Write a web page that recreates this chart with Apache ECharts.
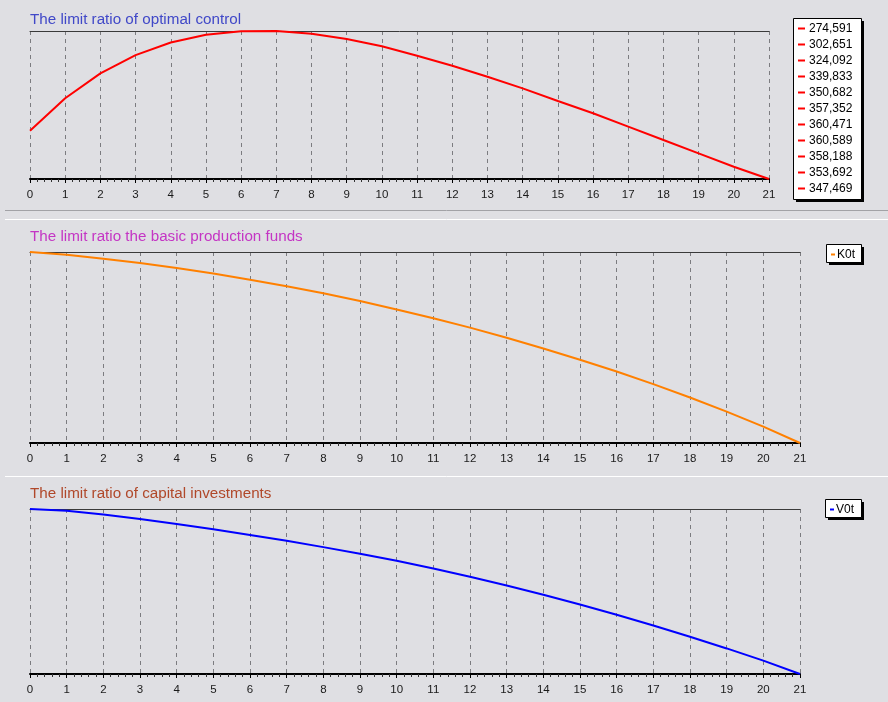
<!DOCTYPE html>
<html>
<head>
<meta charset="utf-8">
<script src="https://cdn.jsdelivr.net/npm/echarts@6/dist/echarts.min.js"></script>
<style>
  html, body { margin: 0; padding: 0; background: #dfdfe3; }
  #chart { width: 888px; height: 702px; }
</style>
</head>
<body>
<div id="chart"></div>
<script>
// ---- data ----
const steps = [0, 1, 2, 3, 4, 5, 6, 7, 8, 9, 10, 11, 12, 13, 14, 15, 16, 17, 18, 19, 20, 21];
const optimalControl = [274.591, 302.651, 324.092, 339.833, 350.682, 357.352, 360.471, 360.589, 358.188, 353.692, 347.469,
  339.3, 330.7, 321.2, 311.2, 300.3, 289.7, 278.2, 266.7, 255.2, 243.7, 233.1];
const k0t = [100, 98.5, 96.5, 94.2, 91.6, 88.7, 85.5, 82.1, 78.4, 74.3, 69.9, 65.3, 60.4, 55.1, 49.5, 43.6, 37.4, 30.8, 23.8, 16.4, 8.6, 0];
const v0t = [100, 98.9, 96.6, 93.9, 90.9, 87.7, 84.3, 80.7, 76.9, 72.9, 68.6, 63.9, 58.9, 53.6, 48.0, 42.1, 35.9, 29.4, 22.6, 15.5, 8.1, 0];
const titles = ['The limit ratio of optimal control', 'The limit ratio the basic production funds', 'The limit ratio of capital investments'];
const seriesNames = ['Optimal control', 'K0t', 'V0t'];
const legendCount = 11;

// ---- layout / styles ----
const FONT = 'Liberation Sans, Arial, sans-serif';
const panels = [
  { top: 31, height: 148, right: 888 - 769, titleY: 19.5, titleColor: '#4048c8', color: '#ff0000', data: optimalControl },
  { top: 252, height: 191, right: 888 - 800, titleY: 237, titleColor: '#c435c4', color: '#ff8000', data: k0t },
  { top: 509, height: 165, right: 888 - 800, titleY: 493.5, titleColor: '#b0482a', color: '#0000ff', data: v0t }
];

const grids = [], xAxes = [], yAxes = [], series = [];
panels.forEach((p, i) => {
  grids.push({ left: 30, right: p.right, top: p.top, height: p.height, containLabel: false });
  xAxes.push({
    gridIndex: i, type: 'value', min: 0, max: 21, interval: 1, position: 'bottom',
    axisLine: { show: true, onZero: false, lineStyle: { color: '#000', width: 2 } },
    axisTick: { show: true, length: 4, lineStyle: { color: '#000', width: 1 } },
    minorTick: { show: true, splitNumber: 5, length: 3, lineStyle: { color: '#333', width: 1 } },
    axisLabel: { color: '#1a1a1a', fontSize: 11.5, fontFamily: FONT, margin: 10 },
    splitLine: { show: true, lineStyle: { color: '#7c7c80', width: 1, type: [4, 4] } }
  });
  xAxes.push({
    gridIndex: i, type: 'value', min: 0, max: 21, position: 'top',
    axisLine: { show: true, onZero: false, lineStyle: { color: '#3a3a3a', width: 1 } },
    axisTick: { show: false }, axisLabel: { show: false }, splitLine: { show: false }
  });
  yAxes.push({ gridIndex: i, type: 'value', min: 'dataMin', max: 'dataMax', show: false, splitLine: { show: false } });
  series.push({
    name: seriesNames[i], type: 'line', xAxisIndex: i * 2, yAxisIndex: i,
    data: steps.map((s, k) => [s, p.data[k]]),
    showSymbol: false, symbol: 'none', clip: false, animation: false,
    lineStyle: { color: p.color, width: 2 }, itemStyle: { color: p.color }
  });
});

// ---- graphics: titles, separators, legend boxes ----
const graphic = [];
panels.forEach((p, i) => {
  graphic.push({ type: 'text', x: 30, y: p.titleY, silent: true,
    style: { text: titles[i], fill: p.titleColor, font: '15.2px ' + FONT, verticalAlign: 'middle' } });
});
graphic.push({ type: 'line', shape: { x1: 5, y1: 210.5, x2: 888, y2: 210.5 }, style: { stroke: '#a2a2a6', lineWidth: 1 }, silent: true });
graphic.push({ type: 'line', shape: { x1: 5, y1: 219.5, x2: 888, y2: 219.5 }, style: { stroke: '#ffffff', lineWidth: 1 }, silent: true });
graphic.push({ type: 'line', shape: { x1: 5, y1: 476.5, x2: 888, y2: 476.5 }, style: { stroke: '#ffffff', lineWidth: 1 }, silent: true });

function legendBox(x, y, w, h, rows, color) {
  const children = [
    { type: 'rect', shape: { x: x + 3, y: y + 3, width: w, height: h }, style: { fill: '#000' } },
    { type: 'rect', shape: { x: x + 0.5, y: y + 0.5, width: w, height: h }, style: { fill: '#fff', stroke: '#000', lineWidth: 1 } }
  ];
  rows.forEach((r, k) => {
    const cy = y + 10.5 + k * 16;
    const multi = rows.length > 1;
    children.push({ type: 'line', shape: { x1: x + 5, y1: cy, x2: x + (multi ? 12 : 9), y2: cy }, style: { stroke: color, lineWidth: 2 } });
    children.push({ type: 'text', x: x + (multi ? 16 : 11), y: cy, style: { text: r, fill: '#000', font: '12px ' + FONT, verticalAlign: 'middle', align: 'left' } });
  });
  return { type: 'group', silent: true, children: children };
}
const legendRows = optimalControl.slice(0, legendCount).map(v => v.toFixed(3).replace('.', ','));
graphic.push(legendBox(793, 18, 68, 181, legendRows, panels[0].color));
graphic.push(legendBox(826, 244, 35, 18, [seriesNames[1]], panels[1].color));
graphic.push(legendBox(825, 499, 36, 18, [seriesNames[2]], panels[2].color));

const chart = echarts.init(document.getElementById('chart'), null, { renderer: 'canvas' });
chart.setOption({
  backgroundColor: '#dfdfe3',
  animation: false,
  grid: grids, xAxis: xAxes, yAxis: yAxes, series: series, graphic: graphic
});
</script>
</body>
</html>
